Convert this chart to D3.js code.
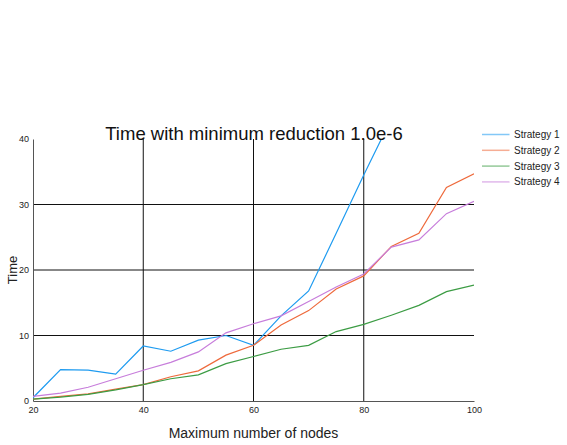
<!DOCTYPE html>
<html>
<head>
<meta charset="utf-8">
<script src="https://cdn.jsdelivr.net/npm/d3@7"></script>
<style>
  body { margin: 0; background: #fff; }
  text { font-family: "Liberation Sans", Arial, sans-serif; }
</style>
</head>
<body>
<script>
// data
const nodes = [20, 25, 30, 35, 40, 45, 50, 55, 60, 65, 70, 75, 80, 85, 90, 95, 100];
const strategy1 = [0.5, 4.8, 4.7, 4.1, 8.4, 7.6, 9.3, 10.0, 8.5, 13.0, 16.8, 25.6, 34.5, 43.1, 54.0, 66.0, 80.0];
const strategy2 = [0.3, 0.7, 1.1, 1.8, 2.5, 3.7, 4.6, 7.0, 8.5, 11.6, 13.8, 17.1, 19.1, 23.6, 25.6, 32.6, 34.7];
const strategy3 = [0.3, 0.6, 1.0, 1.7, 2.5, 3.4, 4.0, 5.7, 6.8, 7.9, 8.5, 10.6, 11.7, 13.1, 14.6, 16.7, 17.7];
const strategy4 = [0.7, 1.2, 2.1, 3.4, 4.7, 5.9, 7.5, 10.4, 11.8, 13.0, 15.2, 17.4, 19.4, 23.5, 24.6, 28.6, 30.5];
const seriesNames = ["Strategy 1", "Strategy 2", "Strategy 3", "Strategy 4"];
const seriesColors = ["#1e9bf0", "#ee6a3c", "#3c9c44", "#c77ddb"];
const xTicks = [20, 40, 60, 80, 100];
const yTicks = [0, 10, 20, 30, 40];
const xGrid = [40, 60, 80];
const yGrid = [10, 20, 30];

const width = 567;
const height = 445;
const margin = { top: 139, right: 93, bottom: 44, left: 33 };
const innerWidth = width - margin.left - margin.right;
const innerHeight = height - margin.top - margin.bottom;

const svg = d3.select("body").append("svg")
  .attr("width", width)
  .attr("height", height);

const x = d3.scaleLinear().domain([20, 100]).range([0, innerWidth]);
const y = d3.scaleLinear().domain([0, 40]).range([innerHeight, 0]);

const g = svg.append("g")
  .attr("transform", `translate(${margin.left},${margin.top})`);

svg.append("defs").append("clipPath").attr("id", "plot-clip")
  .append("rect")
  .attr("width", innerWidth)
  .attr("height", innerHeight);

// grid lines
g.selectAll(".vgrid").data(xGrid).enter().append("line")
  .attr("x1", d => x(d)).attr("x2", d => x(d))
  .attr("y1", 0).attr("y2", innerHeight)
  .attr("stroke", "#111").attr("stroke-width", 1);
g.selectAll(".hgrid").data(yGrid).enter().append("line")
  .attr("x1", 0).attr("x2", innerWidth)
  .attr("y1", d => y(d)).attr("y2", d => y(d))
  .attr("stroke", "#111").attr("stroke-width", 1);

// axes
const xAxis = g.append("g")
  .attr("transform", `translate(0,${innerHeight})`)
  .call(d3.axisBottom(x).tickValues(xTicks).tickSize(0).tickPadding(6));
const yAxis = g.append("g")
  .call(d3.axisLeft(y).tickValues(yTicks).tickSize(0).tickPadding(4));
[xAxis, yAxis].forEach(a => {
  a.select(".domain").attr("stroke", "#555");
  a.selectAll("text").attr("font-size", 9).attr("fill", "#222")
    .attr("font-family", "Liberation Sans, Arial, sans-serif");
});

// lines
const allSeries = [strategy1, strategy2, strategy3, strategy4];
const line = d3.line()
  .x((d, i) => x(nodes[i]))
  .y(d => y(d));
g.append("g").attr("clip-path", "url(#plot-clip)")
  .selectAll("path").data(allSeries).enter().append("path")
  .attr("d", line)
  .attr("fill", "none")
  .attr("stroke", (d, i) => seriesColors[i])
  .attr("stroke-width", 1.2);

// title and labels
svg.append("text")
  .attr("x", 254).attr("y", 140)
  .attr("text-anchor", "middle")
  .attr("font-size", 18.5)
  .attr("fill", "#111")
  .text("Time with minimum reduction 1.0e-6");
svg.append("text")
  .attr("x", margin.left + innerWidth / 2).attr("y", 438)
  .attr("text-anchor", "middle")
  .attr("font-size", 14)
  .attr("fill", "#222")
  .text("Maximum number of nodes");
svg.append("text")
  .attr("transform", `translate(17,${margin.top + innerHeight / 2}) rotate(-90)`)
  .attr("text-anchor", "middle")
  .attr("font-size", 13)
  .attr("fill", "#222")
  .text("Time");

// legend
const legend = svg.append("g").attr("transform", "translate(482,134.5)");
const items = legend.selectAll("g").data(seriesNames).enter().append("g")
  .attr("transform", (d, i) => `translate(0,${i * 15.8})`);
items.append("line")
  .attr("x1", 0).attr("x2", 27.5)
  .attr("stroke", (d, i) => seriesColors[i])
  .attr("stroke-opacity", 0.55)
  .attr("stroke-width", 1.5);
items.append("text")
  .attr("x", 32).attr("y", 3.5)
  .attr("font-size", 10)
  .attr("fill", "#222")
  .text(d => d);
</script>
</body>
</html>
